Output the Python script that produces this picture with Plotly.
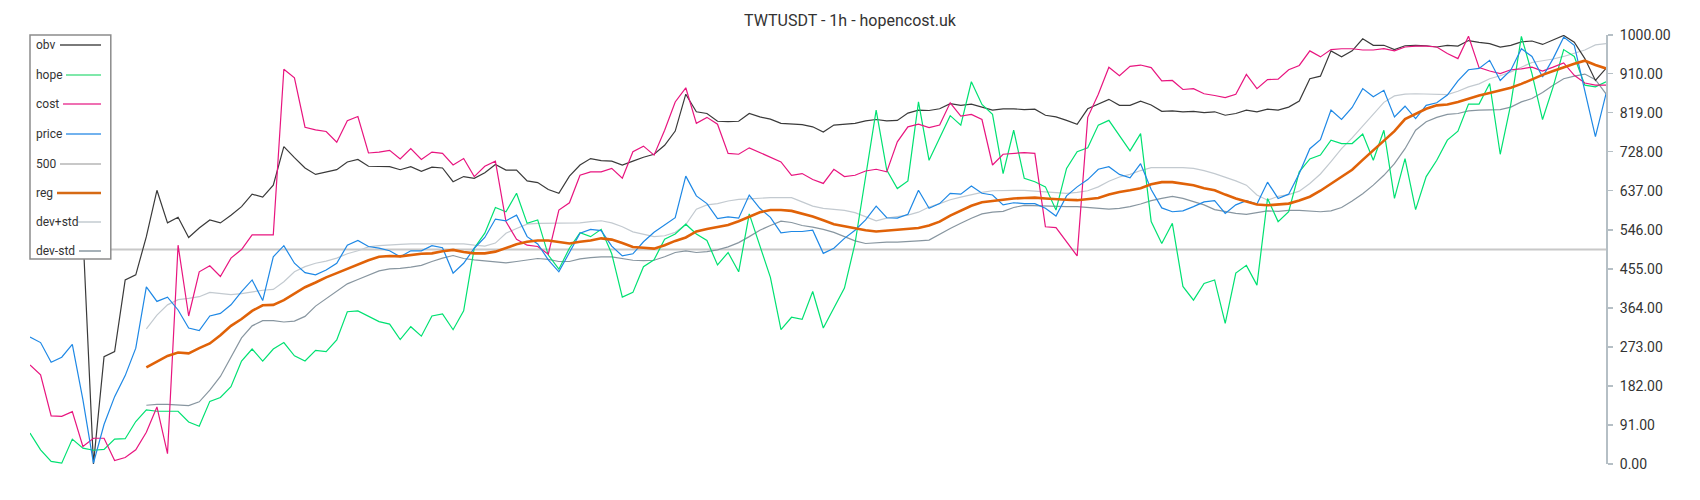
import plotly.graph_objects as go

# ---------------- data (hourly index, values normalised 0..1000) ----------------
idx = list(range(150))

obv = [None, None, None, None, None, 540, 0, 250, 262, 429,
       441, 530, 638, 562, 575, 528, 550, 569, 562, 580,
       600, 629, 622, 650, 740, 714, 690, 675, 680, 686,
       704, 710, 694, 694, 693, 686, 693, 682, 692, 690,
       658, 670, 666, 679, 698, 685, 685, 660, 656, 640,
       631, 671, 697, 712, 707, 706, 697, 706, 715, 722,
       743, 776, 862, 821, 817, 799, 798, 799, 817, 809,
       804, 794, 792, 791, 786, 774, 790, 792, 794, 800,
       803, 800, 801, 818, 825, 824, 828, 840, 836, 839,
       832, 825, 828, 828, 826, 827, 813, 809, 801, 792,
       828, 839, 850, 836, 836, 846, 837, 822, 823, 821,
       822, 819, 821, 813, 817, 825, 821, 827, 825, 832,
       846, 898, 904, 963, 949, 963, 991, 976, 976, 966,
       975, 976, 975, 972, 976, 974, 987, 983, 980, 972,
       976, 984, 986, 978, 989, 999, 983, 945, 894, 922]

hope = [72, 33, 6, 2, 58, 37, 32, 34, 58, 59,
        99, 126, 123, 123, 123, 98, 88, 146, 155, 180,
        240, 268, 240, 268, 283, 252, 240, 265, 262, 289,
        355, 357, 344, 332, 326, 290, 320, 298, 345, 350,
        313, 357, 503, 538, 598, 588, 631, 561, 569, 487,
        454, 503, 539, 530, 547, 490, 389, 400, 460, 476,
        524, 536, 559, 536, 521, 464, 493, 448, 583, 508,
        435, 313, 342, 337, 402, 317, 363, 410, 514, 670,
        825, 685, 642, 660, 844, 708, 761, 812, 790, 891,
        838, 815, 677, 778, 666, 658, 646, 592, 689, 728,
        737, 790, 801, 764, 730, 770, 565, 514, 561, 414,
        382, 421, 429, 328, 445, 463, 417, 619, 565, 588,
        681, 711, 720, 755, 747, 747, 769, 708, 778, 619,
        712, 593, 670, 708, 755, 776, 839, 839, 887, 722,
        839, 997, 910, 803, 879, 966, 950, 883, 879, 891]

cost = [231, 208, 112, 111, 122, 41, 60, 60, 8, 15,
        33, 74, 133, 24, 510, 345, 448, 462, 437, 480,
        500, 534, 534, 534, 920, 900, 785, 779, 775, 750,
        800, 810, 725, 727, 731, 711, 735, 710, 727, 724,
        697, 712, 670, 694, 706, 565, 524, 510, 507, 489,
        592, 609, 673, 681, 681, 689, 666, 728, 741, 720,
        778, 844, 877, 794, 808, 792, 724, 722, 737, 726,
        715, 704, 673, 677, 663, 654, 687, 670, 673, 683,
        687, 681, 751, 786, 792, 784, 790, 842, 811, 815,
        803, 697, 722, 724, 726, 724, 553, 551, 518, 485,
        808, 862, 925, 905, 927, 930, 924, 893, 894, 873,
        875, 863, 859, 854, 862, 908, 875, 896, 897, 919,
        929, 963, 949, 966, 968, 968, 965, 965, 968, 963,
        972, 974, 974, 972, 957, 945, 997, 924, 916, 910,
        919, 921, 925, 916, 925, 935, 906, 888, 883, 883]

price = [296, 283, 237, 249, 279, 150, 2, 92, 157, 206,
         270, 413, 379, 389, 359, 317, 311, 345, 351, 371,
         402, 429, 381, 483, 509, 468, 446, 441, 452, 468,
         510, 521, 507, 503, 497, 483, 497, 497, 509, 504,
         445, 468, 503, 528, 571, 567, 580, 530, 513, 476,
         448, 493, 538, 547, 544, 508, 485, 490, 518, 540,
         557, 574, 671, 625, 607, 572, 576, 573, 627, 596,
         575, 539, 542, 542, 545, 491, 503, 526, 545, 569,
         601, 574, 573, 582, 638, 596, 607, 631, 629, 648,
         631, 627, 604, 609, 607, 607, 596, 578, 625, 646,
         663, 687, 693, 675, 667, 700, 640, 597, 588, 590,
         600, 611, 614, 584, 604, 614, 606, 657, 619, 629,
         677, 735, 756, 825, 803, 831, 875, 856, 871, 809,
         834, 805, 836, 842, 860, 893, 919, 922, 941, 894,
         918, 968, 950, 902, 945, 995, 976, 867, 763, 863]

level_500 = [500] * len(idx)

reg = [None, None, None, None, None, None, None, None, None, None,
       None, 225, 239, 252, 260, 258, 270, 281, 300, 322,
       338, 357, 370, 371, 382, 397, 412, 423, 435, 445,
       455, 465, 475, 483, 485, 484, 487, 490, 491, 496,
       499, 494, 491, 491, 495, 503, 512, 518, 521, 521,
       517, 514, 518, 521, 526, 523, 515, 506, 504, 502,
       510, 520, 528, 542, 548, 552, 557, 566, 577, 587,
       592, 592, 590, 584, 577, 568, 559, 554, 549, 545,
       542, 544, 546, 548, 550, 556, 565, 579, 591, 602,
       610, 613, 616, 619, 620, 621, 619, 617, 616, 615,
       617, 620, 628, 634, 638, 643, 652, 657, 657, 653,
       650, 643, 638, 628, 619, 612, 605, 603, 605, 607,
       614, 623, 637, 653, 670, 686, 709, 731, 753, 776,
       804, 816, 828, 836, 838, 844, 852, 859, 865, 871,
       877, 886, 897, 907, 916, 925, 933, 940, 930, 922]

dev_plus_std = [None, None, None, None, None, None, None, None, None, None,
                None, 315, 347, 371, 383, 386, 390, 400, 397, 395,
                397, 401, 405, 407, 425, 448, 460, 468, 473, 480,
                490, 497, 506, 509, 511, 512, 513, 513, 514, 513,
                513, 513, 510, 508, 515, 538, 549, 559, 561, 561,
                561, 561, 562, 565, 567, 562, 553, 541, 535, 530,
                532, 540, 558, 594, 604, 607, 613, 617, 618, 620,
                621, 621, 621, 611, 601, 596, 593, 591, 586, 576,
                567, 573, 576, 580, 587, 599, 607, 616, 622, 628,
                633, 637, 638, 638, 638, 636, 634, 633, 631, 633,
                637, 646, 659, 669, 675, 684, 691, 691, 691, 691,
                689, 684, 677, 669, 660, 650, 627, 615, 624, 628,
                636, 654, 676, 705, 735, 760, 787, 816, 843, 858,
                862, 863, 862, 861, 861, 869, 879, 886, 898, 905,
                914, 925, 936, 940, 944, 950, 958, 965, 977, 980]

dev_minus_std = [None, None, None, None, None, None, None, None, None, None,
                 None, 137, 139, 139, 138, 136, 145, 172, 204, 250,
                 294, 322, 334, 334, 331, 333, 344, 368, 385, 403,
                 420, 430, 440, 450, 455, 456, 459, 463, 472, 480,
                 486, 479, 476, 474, 472, 469, 472, 475, 479, 477,
                 472, 472, 478, 481, 483, 483, 479, 475, 474, 475,
                 483, 493, 497, 493, 495, 499, 506, 516, 530, 545,
                 556, 566, 563, 556, 552, 547, 540, 530, 520, 514,
                 516, 517, 517, 518, 520, 522, 536, 549, 561, 573,
                 583, 587, 589, 598, 603, 602, 601, 600, 600, 600,
                 598, 595, 594, 596, 600, 606, 614, 619, 624, 619,
                 612, 604, 593, 589, 584, 582, 586, 590, 589, 591,
                 591, 590, 588, 590, 598, 613, 630, 650, 673, 700,
                 735, 778, 798, 808, 815, 817, 823, 825, 825, 826,
                 832, 844, 852, 866, 883, 898, 904, 909, 896, 863]

y_ticks = [0, 91, 182, 273, 364, 455, 546, 637, 728, 819, 910, 1000]
y_tick_labels = ["0.00", "91.00", "182.00", "273.00", "364.00", "455.00",
                 "546.00", "637.00", "728.00", "819.00", "910.00", "1000.00"]

# ---------------- styling ----------------
W, H = 1700, 500
PL, PR, PT, PB = 30, 1606, 35, 464      # plot area in pixels


def px_x(px):
    return (px - PL) / (PR - PL)


def px_y(py):
    return (PB - py) / (PB - PT)


series = [
    ("500", level_500, "#c8c8c8", 2.0),
    ("dev+std", dev_plus_std, "#c3cad0", 1.2),
    ("dev-std", dev_minus_std, "#8896a0", 1.2),
    ("obv", obv, "#3a3a3a", 1.2),
    ("hope", hope, "#00e172", 1.2),
    ("cost", cost, "#e8157f", 1.2),
    ("price", price, "#1e88e5", 1.2),
    ("reg", reg, "#e06208", 2.6),
]

fig = go.Figure()
for name, vals, color, width in series:
    fig.add_trace(go.Scatter(x=idx, y=vals, mode="lines", name=name,
                             line=dict(color=color, width=width),
                             hoverinfo="skip", connectgaps=False))

# custom legend (text left, sample line right) like the reference
legend_items = [
    ("obv", "#7a7a7a", 2.0, 45, 60),
    ("hope", "#7fe8aa", 2.0, 75, 66),
    ("cost", "#ef70b2", 2.0, 104, 63),
    ("price", "#72b2ee", 2.0, 134, 66),
    ("500", "#c8c8c8", 2.0, 164, 60),
    ("reg", "#d66a14", 2.4, 193, 57),
    ("dev+std", "#d2d8dc", 2.0, 222, 77),
    ("dev-std", "#a6b1b8", 2.0, 251, 79),
]

shapes = [dict(type="rect", xref="paper", yref="paper",
               x0=px_x(30), x1=px_x(110.8), y0=px_y(259), y1=px_y(35),
               line=dict(color="#8c8c8c", width=1.5), fillcolor="white",
               layer="above")]
annotations = []
for name, color, width, yc, xs in legend_items:
    shapes.append(dict(type="line", xref="paper", yref="paper",
                       x0=px_x(xs), x1=px_x(101), y0=px_y(yc), y1=px_y(yc),
                       line=dict(color=color, width=width), layer="above"))
    annotations.append(dict(text=name, xref="paper", yref="paper",
                            x=px_x(34), y=px_y(yc), xanchor="left",
                            yanchor="middle", showarrow=False,
                            font=dict(size=12, color="#333333",
                                      family="Roboto")))

fig.update_layout(
    width=W, height=H,
    margin=dict(l=PL, r=W - PR, t=PT, b=H - PB, pad=0),
    plot_bgcolor="white", paper_bgcolor="white",
    showlegend=False,
    font=dict(family="Roboto", color="#333333"),
    title=dict(text="TWTUSDT - 1h - hopencost.uk", x=0.5, xanchor="center",
               y=1 - 20 / H, yanchor="middle",
               font=dict(size=16, color="#333333", family="Roboto")),
    xaxis=dict(range=[0, len(idx) - 1], visible=False, showgrid=False,
               zeroline=False),
    yaxis=dict(range=[0, 1000], side="right", tickvals=y_ticks,
               ticktext=y_tick_labels, ticks="outside", ticklen=5,
               tickwidth=1.5, tickcolor="#b5bfc5", showline=True,
               linecolor="#b5bfc5", linewidth=2, showgrid=False,
               zeroline=False, ticklabelstandoff=4,
               tickfont=dict(size=14, color="#333333", family="Roboto")),
    shapes=shapes,
    annotations=annotations,
)

fig.write_html("out.html",
               config={"displayModeBar": False, "staticPlot": True},
               post_script="document.body.style.margin='0px';"
                           "document.body.style.padding='0px';"
                           "document.body.style.overflow='hidden';")
